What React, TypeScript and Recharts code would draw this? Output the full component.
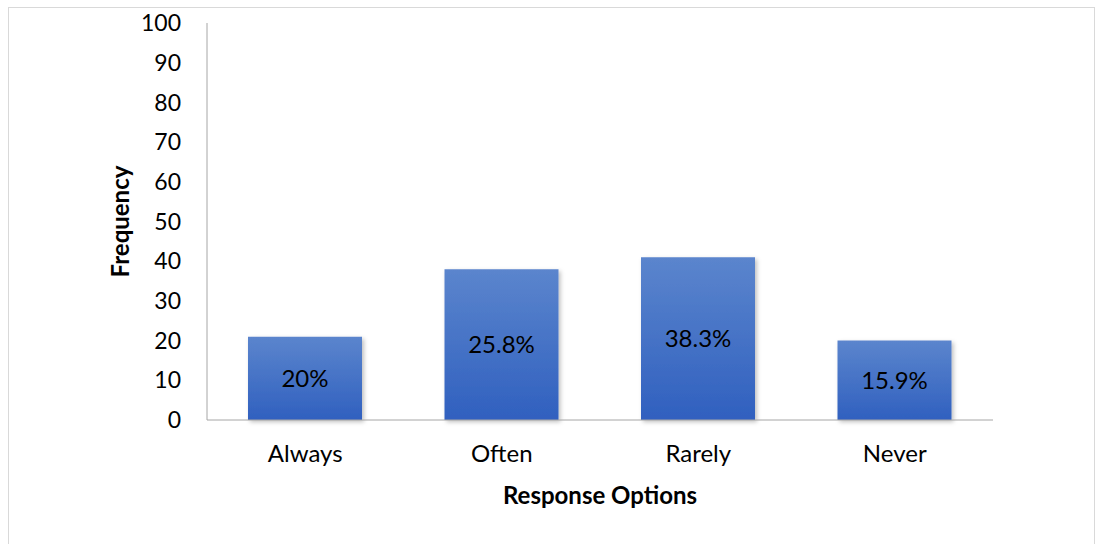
import React from 'react';
import { BarChart, Bar, XAxis, YAxis, LabelList } from 'recharts';

const categories = ['Always', 'Often', 'Rarely', 'Never'];
const frequencies = [21, 38, 41, 20];
const percentLabels = ['20%', '25.8%', '38.3%', '15.9%'];
const yTicks = [0, 10, 20, 30, 40, 50, 60, 70, 80, 90, 100];

const data = categories.map((name, i) => ({
  name,
  value: frequencies[i],
  pct: percentLabels[i],
}));

const FONT = 'Lato, "Noto Sans", sans-serif';

// rotated y-axis title, centred on the plot's vertical middle
const YTitle = (props: any) => {
  const { viewBox } = props;
  const cy = viewBox.y + viewBox.height / 2;
  return (
    <text
      x={119}
      y={cy}
      transform={`rotate(-90, 119, ${cy})`}
      textAnchor="middle"
      dominantBaseline="central"
      fill="#000"
      fontSize={24}
      fontWeight={700}
      fontFamily={FONT}
    >
      Frequency
    </text>
  );
};

export default function App() {
  return (
    <div style={{ position: 'absolute', left: 0, top: 0, width: 1097, height: 544, background: '#fff', overflow: 'hidden' }}>
      {/* outer chart frame */}
      <div style={{ position: 'absolute', left: 8, top: 7, width: 1087, height: 560, border: '1px solid #d9d9d9', boxSizing: 'border-box' }} />
      <BarChart
        width={1097}
        height={544}
        data={data}
        margin={{ top: 23, right: 104, left: 147, bottom: 34 }}
        style={{ fontFamily: FONT }}
      >
        <defs>
          <linearGradient id="barFill" x1="0" y1="0" x2="0" y2="1">
            <stop offset="0%" stopColor="#5b85cd" />
            <stop offset="100%" stopColor="#3060bf" />
          </linearGradient>
          <filter id="barShadow" x="-10%" y="-10%" width="130%" height="130%">
            <feDropShadow dx="2" dy="2" stdDeviation="2" floodColor="#000" floodOpacity="0.25" />
          </filter>
        </defs>
        <XAxis
          dataKey="name"
          height={90}
          tickLine={false}
          tickSize={0}
          tickMargin={25}
          stroke="#a6a6a6"
          tick={{ fill: '#000', fontSize: 24, fontFamily: FONT }}
          label={{ value: 'Response Options', position: 'insideBottom', offset: 6, fill: '#000', fontSize: 24, fontWeight: 700, fontFamily: FONT }}
        />
        <YAxis
          width={60}
          domain={[0, 100]}
          ticks={yTicks}
          interval={0}
          tickLine={false}
          tickSize={0}
          tickMargin={26}
          stroke="#a6a6a6"
          tick={{ fill: '#000', fontSize: 23, fontFamily: FONT }}
          label={<YTitle />}
        />
        <Bar dataKey="value" barSize={114} fill="url(#barFill)" filter="url(#barShadow)" isAnimationActive={false}>
          <LabelList dataKey="pct" position="center" fill="#000" fontSize={24} fontFamily={FONT} />
        </Bar>
      </BarChart>
    </div>
  );
}
